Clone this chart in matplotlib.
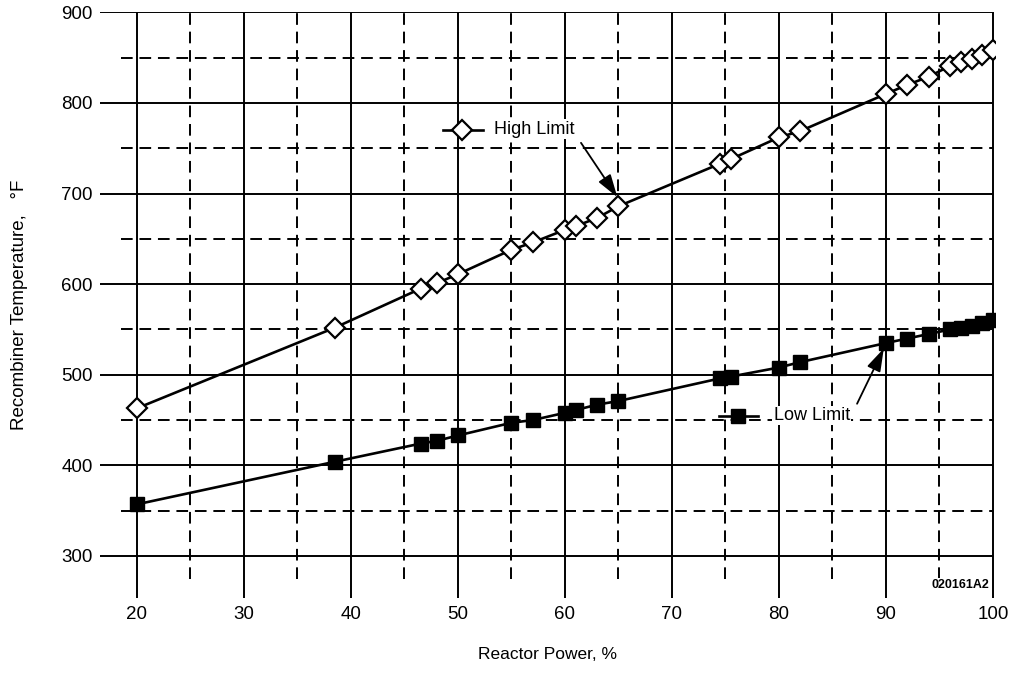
import matplotlib
matplotlib.use('Agg')
import matplotlib.pyplot as plt
import numpy as np

# data
power = [20, 38.5, 46.5, 48, 50, 55, 57, 60, 61, 63, 65, 74.5, 75.5,
         80, 82, 90, 92, 94, 96, 97, 98, 99, 100]
high_limit = [463, 552, 595, 601, 611, 638, 646, 660, 664, 673, 686, 733, 738,
              762, 769, 810, 820, 829, 841, 845, 849, 853, 858]
low_limit = [357, 404, 424, 427, 433, 447, 450, 458, 461, 467, 471, 496, 498,
             508, 514, 535, 540, 545, 550, 552, 554, 557, 560]

x_major = [20, 30, 40, 50, 60, 70, 80, 90, 100]
x_minor = [25, 35, 45, 55, 65, 75, 85, 95]
y_major = [300, 400, 500, 600, 700, 800, 900]
y_minor = [350, 450, 550, 650, 750, 850]

plt.rcParams['font.family'] = ['Liberation Sans', 'DejaVu Sans']

fig = plt.figure(figsize=(10.13, 6.73), dpi=100)
x0, x1 = 16.5, 100.2
y0, y1 = 253.6, 900
ax = fig.add_axes([99.5 / 1013, 1 - 598 / 673, (x1 - x0) * 10.7 / 1013, (y1 - y0) * 0.906 / 673])
ax.set_xlim(x0, x1)
ax.set_ylim(y0, y1)
for s in ax.spines.values():
    s.set_visible(False)

lw_grid = 1.4
dash = (0, (6, 3.5))
# solid grid
ax.hlines(y_major, x0, 100, colors='black', linewidth=lw_grid, zorder=1)
ax.vlines(x_major, y0, 900, colors='black', linewidth=lw_grid, zorder=1)
# dashed grid
ax.hlines(y_minor, 18.5, 100, colors='black', linewidth=lw_grid, linestyles=dash, zorder=1)
ax.vlines(x_minor, 275, 900, colors='black', linewidth=lw_grid, linestyles=dash, zorder=1)

ms_d, ms_s = 10, 9.5
ax.plot(power, high_limit, color='black', linewidth=1.9, marker='D', markersize=ms_d,
        markerfacecolor='white', markeredgecolor='black', markeredgewidth=1.6, zorder=3)
ax.plot(power, low_limit, color='black', linewidth=1.9, marker='s', markersize=ms_s,
        markerfacecolor='black', markeredgecolor='black', zorder=3)

ax.set_xticks(x_major)
ax.set_yticks(y_major)
ax.tick_params(length=0, labelsize=13.5)
ax.tick_params(axis='y', pad=5)
ax.tick_params(axis='x', pad=6)

ax.set_xlabel('Reactor Power, %', fontsize=12.5, labelpad=17)
ax.set_ylabel('Recombiner Temperature,   \u00b0F', fontsize=13.5, labelpad=24)

# in-plot legend keys
ax.plot([48.6, 52.3], [770, 770], color='black', linewidth=1.9, zorder=3)
ax.plot([50.4], [770], marker='D', markersize=ms_d, markerfacecolor='white',
        markeredgecolor='black', markeredgewidth=1.6, zorder=4)
ax.text(53.4, 771, 'High Limit', fontsize=13, va='center', ha='left', zorder=4,
        bbox=dict(facecolor='white', edgecolor='none', pad=1))
ax.annotate('', xy=(64.9, 696), xytext=(61.5, 756),
            arrowprops=dict(arrowstyle='-|>,head_length=0.7,head_width=0.22', color='black',
                            lw=1.3, mutation_scale=20, shrinkA=0, shrinkB=0), zorder=4)

ax.plot([74.4, 78.0], [454, 454], color='black', linewidth=1.9, zorder=3)
ax.plot([76.2], [454], marker='s', markersize=ms_s, color='black', zorder=4)
ax.text(79.5, 455, 'Low Limit', fontsize=13, va='center', ha='left', zorder=4,
        bbox=dict(facecolor='white', edgecolor='none', pad=1))
ax.annotate('', xy=(89.8, 529), xytext=(87.3, 468),
            arrowprops=dict(arrowstyle='-|>,head_length=0.7,head_width=0.22', color='black',
                            lw=1.3, mutation_scale=20, shrinkA=0, shrinkB=0), zorder=4)

ax.text(99.7, 268, '020161A2', fontsize=9, fontweight='bold', ha='right', va='center',
        zorder=4, bbox=dict(facecolor='white', edgecolor='none', pad=1))

fig.savefig('out.png', dpi=100)
